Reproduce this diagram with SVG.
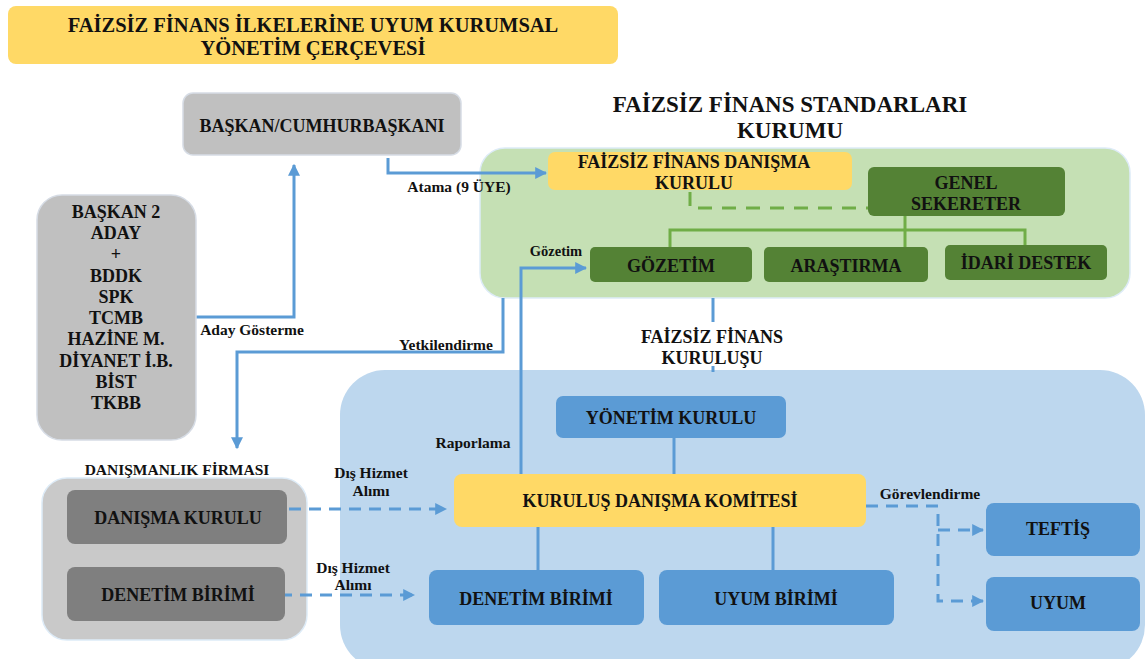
<svg xmlns="http://www.w3.org/2000/svg" width="1147" height="659" viewBox="0 0 1147 659" font-family="'Liberation Serif', 'DejaVu Serif', serif">
<defs>
<marker id="ab" viewBox="0 0 10 10" refX="9" refY="5" markerWidth="4" markerHeight="4" orient="auto" markerUnits="strokeWidth">
<path d="M0,0 L10,5 L0,10 z" fill="#5B9BD5"/>
</marker>
</defs>
<style>
text{font-family:'Liberation Serif','DejaVu Serif',serif;font-weight:bold;fill:#111;text-anchor:middle}
.t18{font-size:18px}
.lb{font-size:15.5px}
.gray{fill:#C0C0C0;stroke:#D6DCE5;stroke-width:1.5}
.dgray{fill:#7F7F7F}
.yel{fill:#FFD966}
.dg{fill:#548235}
.bl{fill:#5B9BD5}
.ln{fill:none;stroke:#5B9BD5;stroke-width:3}
.dash{fill:none;stroke:#5B9BD5;stroke-width:3;stroke-dasharray:12 8}
.gln{fill:none;stroke:#70AD47;stroke-width:3}
</style>
<rect width="1147" height="659" fill="#fff"/>

<g id="title">
<rect x="8" y="6" width="610" height="58" rx="8" class="yel"/>
<text x="313" y="32" style="font-size:20.5px">FAİZSİZ FİNANS İLKELERİNE UYUM KURUMSAL</text>
<text x="313" y="55" style="font-size:20.5px">YÖNETİM ÇERÇEVESİ</text>
</g>

<g id="containers">
<rect x="480" y="148" width="650" height="150" rx="25" fill="#C5E0B4" stroke="#DDEBF7" stroke-width="1.5"/>
<rect x="340" y="370" width="805" height="300" rx="45" fill="#BDD7EE"/>
<rect x="42" y="478" width="265" height="162" rx="25" fill="#C9C9C9" stroke="#DDEBF7" stroke-width="1.5"/>
<text x="790" y="112" style="font-size:23px">FAİZSİZ FİNANS STANDARLARI</text>
<text x="790" y="138" style="font-size:23px">KURUMU</text>
<text x="177" y="475" class="lb">DANIŞMANLIK FİRMASI</text>
</g>

<g id="connectors">
<polyline class="ln" points="196,317 294,317 294,165" marker-end="url(#ab)"/>
<polyline class="ln" points="388,158 388,173 546,173" marker-end="url(#ab)"/>
<polyline class="ln" points="503,298 503,352 237,352 237,448" marker-end="url(#ab)"/>
<polyline class="ln" points="521,474 521,268 586,268" marker-end="url(#ab)"/>
<line class="ln" x1="713" y1="298" x2="713" y2="322"/>
<line class="ln" x1="713" y1="366" x2="713" y2="372"/>
<line class="ln" x1="674" y1="438" x2="674" y2="474"/>
<line class="ln" x1="538" y1="527" x2="538" y2="570"/>
<line class="ln" x1="773" y1="527" x2="773" y2="570"/>
<polyline class="dash" points="289,509 446,509" marker-end="url(#ab)"/>
<polyline class="dash" points="260,595 414,595" marker-end="url(#ab)"/>
<polyline class="dash" points="866,506 938,506 938,601 983,601" marker-end="url(#ab)"/>
<polyline class="dash" points="938,530 983,530" marker-end="url(#ab)"/>
<polyline class="gln" points="690,192 690,208 868,208" stroke-dasharray="14 10"/>
<polyline class="gln" points="670,247 670,230 1025,230 1025,245"/>
<line class="gln" x1="905" y1="216" x2="905" y2="247"/>
<text x="252" y="335" class="lb">Aday Gösterme</text>
<text x="459" y="192" class="lb">Atama (9 ÜYE)</text>
<text x="446" y="350" class="lb">Yetkilendirme</text>
<text x="556" y="256" style="font-size:14.5px">Gözetim</text>
<text x="473" y="448" class="lb">Raporlama</text>
<text x="371" y="478" class="lb">Dış Hizmet</text>
<text x="371" y="496" class="lb">Alımı</text>
<text x="353" y="573" class="lb">Dış Hizmet</text>
<text x="353" y="590" class="lb">Alımı</text>
<text x="930" y="499" class="lb">Görevlendirme</text>
<text x="712" y="343" class="t18">FAİZSİZ FİNANS</text>
<text x="712" y="364" class="t18">KURULUŞU</text>
</g>

<g id="baskan">
<rect x="183" y="93" width="278" height="62" rx="10" class="gray"/>
<text x="322" y="132" class="t18">BAŞKAN/CUMHURBAŞKANI</text>
</g>

<g id="adaylar">
<rect x="37" y="195" width="159" height="245" rx="25" class="gray"/>
<text x="116" y="218" class="t18">BAŞKAN 2</text>
<text x="116" y="239" class="t18">ADAY</text>
<text x="116" y="260" class="t18">+</text>
<text x="116" y="282" class="t18">BDDK</text>
<text x="116" y="303" class="t18">SPK</text>
<text x="116" y="324" class="t18">TCMB</text>
<text x="116" y="345" class="t18">HAZİNE M.</text>
<text x="116" y="367" class="t18">DİYANET İ.B.</text>
<text x="116" y="388" class="t18">BİST</text>
<text x="116" y="409" class="t18">TKBB</text>
</g>

<g id="danisma-kurulu">
<rect x="548" y="152" width="304" height="38" rx="7" class="yel"/>
<text x="694" y="168" class="t18">FAİZSİZ FİNANS DANIŞMA</text>
<text x="694" y="189" class="t18">KURULU</text>
</g>

<g id="genel-sekreter">
<rect x="868" y="167" width="197" height="49" rx="6" class="dg"/>
<text x="966" y="189" class="t18">GENEL</text>
<text x="966" y="210" class="t18">SEKERETER</text>
</g>

<g id="gozetim">
<rect x="590" y="247" width="162" height="35" rx="5" class="dg"/>
<text x="671" y="272" class="t18">GÖZETİM</text>
</g>
<g id="arastirma">
<rect x="764" y="247" width="164" height="35" rx="5" class="dg"/>
<text x="846" y="272" class="t18">ARAŞTIRMA</text>
</g>
<g id="idari-destek">
<rect x="945" y="245" width="162" height="35" rx="5" class="dg"/>
<text x="1026" y="269" class="t18">İDARİ DESTEK</text>
</g>

<g id="yonetim-kurulu">
<rect x="556" y="396" width="230" height="42" rx="7" class="bl"/>
<text x="671" y="424" class="t18">YÖNETİM KURULU</text>
</g>

<g id="komite">
<rect x="454" y="474" width="412" height="53" rx="8" class="yel"/>
<text x="660" y="507" class="t18">KURULUŞ DANIŞMA KOMİTESİ</text>
</g>

<g id="denetim-birimi">
<rect x="429" y="570" width="215" height="55" rx="8" class="bl"/>
<text x="536" y="605" class="t18">DENETİM BİRİMİ</text>
</g>
<g id="uyum-birimi">
<rect x="659" y="570" width="235" height="55" rx="8" class="bl"/>
<text x="776" y="605" class="t18">UYUM BİRİMİ</text>
</g>
<g id="teftis">
<rect x="986" y="503" width="154" height="53" rx="8" class="bl"/>
<text x="1058" y="535" class="t18">TEFTİŞ</text>
</g>
<g id="uyum">
<rect x="986" y="577" width="154" height="54" rx="8" class="bl"/>
<text x="1058" y="609" class="t18">UYUM</text>
</g>

<g id="firma-danisma-kurulu">
<rect x="67" y="490" width="220" height="54" rx="8" class="dgray"/>
<text x="178" y="524" class="t18">DANIŞMA KURULU</text>
</g>
<g id="firma-denetim-birimi">
<rect x="67" y="567" width="218" height="54" rx="8" class="dgray"/>
<text x="178" y="601" class="t18">DENETİM BİRİMİ</text>
</g>
</svg>
